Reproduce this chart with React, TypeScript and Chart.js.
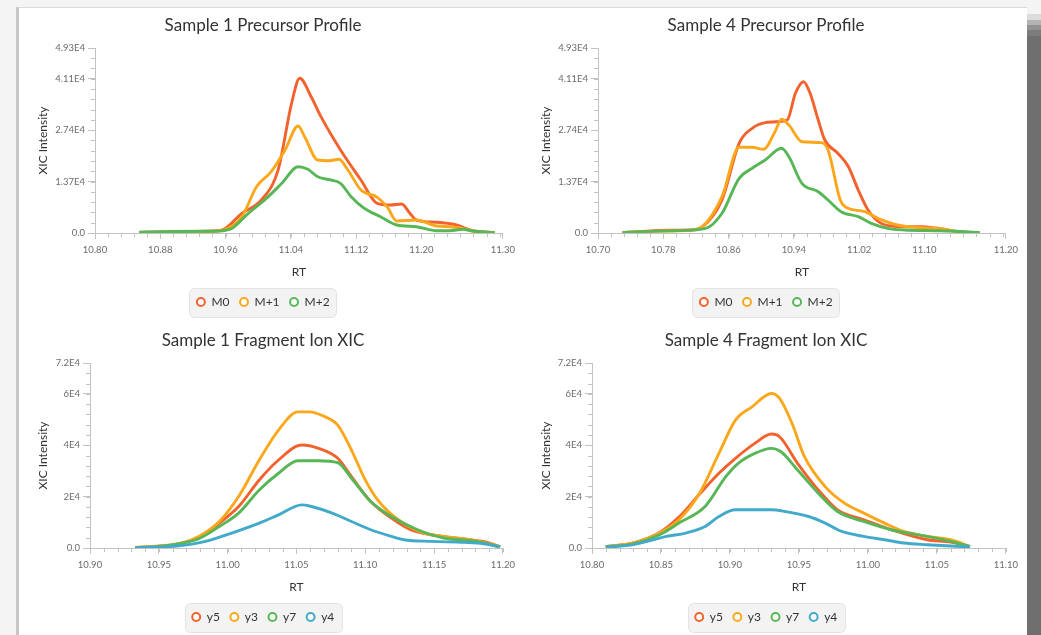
import React, { useEffect, useRef } from "react";
import { Chart, registerables } from "chart.js";

Chart.register(...registerables);

const FONT = "Lato, 'Noto Sans', 'DejaVu Sans', sans-serif";
Chart.defaults.font.family = FONT;

const AXIS = "#c2c2c2";
const TICK_TEXT = "#6b6b6b";
const TEXT = "#333333";

const RED = "#f3622d";
const ORANGE = "#fba71b";
const GREEN = "#57b757";
const BLUE = "#41a9c9";

// ---------- Sample 1 Precursor Profile ----------
const s1M0RT = [10.854, 10.88, 10.91, 10.94, 10.956, 10.98, 11.004, 11.0245, 11.041, 11.051, 11.065, 11.077, 11.101, 11.126, 11.146, 11.162, 11.176, 11.186, 11.194, 11.219, 11.243, 11.263, 11.29];
const s1M0 = [150, 250, 350, 500, 800, 5250, 8800, 16800, 34560, 41230, 36320, 31000, 22120, 14120, 7900, 7460, 7730, 5250, 3460, 2850, 2130, 600, 130];
const s1M1RT = [10.854, 10.9, 10.94, 10.956, 10.98, 10.998, 11.016, 11.033, 11.049, 11.057, 11.073, 11.087, 11.099, 11.11, 11.126, 11.146, 11.158, 11.17, 11.194, 11.219, 11.235, 11.251, 11.263, 11.29];
const s1M1 = [150, 300, 450, 700, 4340, 12340, 16340, 22120, 28520, 25660, 19450, 19270, 19640, 16790, 11460, 9510, 7010, 3200, 3460, 1870, 1680, 1250, 500, 100];
const s1M2RT = [10.854, 10.9, 10.93, 10.952, 10.968, 10.988, 11.008, 11.029, 11.049, 11.061, 11.073, 11.089, 11.101, 11.114, 11.13, 11.15, 11.17, 11.194, 11.219, 11.235, 11.251, 11.263, 11.29];
const s1M2 = [200, 400, 450, 500, 1250, 5250, 8800, 13240, 17670, 16970, 15000, 14120, 13240, 9670, 6580, 4340, 2130, 1680, 600, 600, 980, 530, 100];

// ---------- Sample 4 Precursor Profile ----------
const s4M0RT = [10.73, 10.751, 10.775, 10.812, 10.828, 10.852, 10.873, 10.889, 10.905, 10.921, 10.932, 10.942, 10.952, 10.96, 10.97, 10.978, 10.994, 11.007, 11.019, 11.031, 11.047, 11.071, 11.096, 11.116, 11.144, 11.168];
const s4M0 = [100, 350, 700, 800, 1680, 8800, 23900, 27900, 29400, 29660, 30100, 37230, 40320, 37230, 30100, 24780, 21240, 17670, 11460, 6130, 2580, 1680, 1680, 1250, 300, 100];
const s4M1RT = [10.73, 10.775, 10.812, 10.828, 10.852, 10.873, 10.889, 10.903, 10.917, 10.925, 10.934, 10.95, 10.974, 10.982, 10.997, 11.003, 11.027, 11.043, 11.067, 11.096, 11.116, 11.144, 11.168];
const s4M1 = [100, 500, 700, 1680, 9670, 22840, 22840, 22300, 27000, 30300, 28780, 24330, 24070, 22120, 8800, 7000, 5680, 3920, 2130, 1410, 1250, 300, 100];
const s4M2RT = [10.73, 10.751, 10.792, 10.832, 10.852, 10.873, 10.889, 10.905, 10.925, 10.934, 10.95, 10.97, 10.982, 10.998, 11.019, 11.035, 11.055, 11.076, 11.116, 11.144, 11.168];
const s4M2 = [100, 350, 600, 1250, 5250, 14580, 17240, 19450, 22570, 20330, 13240, 11010, 8800, 5680, 4340, 2580, 1250, 800, 600, 400, 100];

// ---------- Sample 1 Fragment Ion XIC ----------
const s1y5RT = [10.933, 10.95, 10.965, 10.979, 10.994, 11.008, 11.023, 11.037, 11.054, 11.066, 11.08, 11.09, 11.104, 11.119, 11.133, 11.148, 11.176, 11.188, 11.198];
const s1y5 = [200, 700, 1670, 4200, 9700, 16140, 26490, 34250, 40070, 38790, 34910, 27770, 18080, 11630, 7100, 5160, 3220, 2300, 500];
const s1y3RT = [10.933, 10.95, 10.965, 10.979, 10.994, 11.008, 11.023, 11.037, 11.051, 11.059, 11.071, 11.08, 11.09, 11.1, 11.109, 11.124, 11.143, 11.157, 11.176, 11.188, 11.198];
const s1y3 = [200, 800, 1670, 4500, 10320, 20020, 34250, 45890, 52990, 52990, 51050, 47830, 38130, 26490, 18740, 10980, 5820, 4500, 3220, 1940, 500];
const s1y7RT = [10.933, 10.95, 10.965, 10.979, 10.994, 11.008, 11.023, 11.037, 11.051, 11.066, 11.08, 11.09, 11.104, 11.119, 11.138, 11.157, 11.181, 11.198];
const s1y7 = [200, 600, 1670, 3600, 8380, 13570, 22610, 29090, 33980, 33980, 33210, 27150, 18080, 12260, 7100, 3880, 2560, 500];
const s1y4RT = [10.933, 10.965, 10.984, 11.003, 11.023, 11.037, 11.054, 11.061, 11.076, 11.09, 11.104, 11.119, 11.128, 11.148, 11.172, 11.186, 11.198];
const s1y4 = [100, 890, 2560, 5820, 9700, 12920, 16800, 16140, 13570, 10320, 7100, 4500, 3220, 2560, 2170, 1670, 400];

// ---------- Sample 4 Fragment Ion XIC ----------
const s4y5RT = [10.81, 10.83, 10.849, 10.863, 10.878, 10.892, 10.904, 10.918, 10.93, 10.936, 10.949, 10.964, 10.978, 10.997, 11.017, 11.043, 11.06, 11.074];
const s4y5 = [500, 1940, 6000, 12000, 21000, 29090, 34910, 40730, 44340, 43290, 32970, 22610, 14860, 10980, 7100, 3220, 2300, 500];
const s4y3RT = [10.81, 10.83, 10.849, 10.863, 10.878, 10.892, 10.904, 10.916, 10.93, 10.936, 10.945, 10.954, 10.969, 10.983, 10.997, 11.012, 11.026, 11.043, 11.06, 11.074];
const s4y3 = [600, 1940, 5820, 10980, 21330, 36850, 49770, 54930, 60120, 58190, 48490, 35530, 23900, 17460, 13580, 9700, 6440, 4500, 3220, 600];
const s4y7RT = [10.81, 10.83, 10.849, 10.863, 10.882, 10.897, 10.906, 10.918, 10.93, 10.937, 10.949, 10.964, 10.978, 10.997, 11.017, 11.043, 11.06, 11.069, 11.074];
const s4y7 = [500, 1600, 5160, 9700, 16140, 27770, 32970, 36850, 38790, 37470, 30370, 21330, 14200, 10320, 7100, 4500, 2560, 1300, 600];
const s4y4RT = [10.81, 10.83, 10.854, 10.868, 10.882, 10.892, 10.904, 10.918, 10.93, 10.94, 10.957, 10.969, 10.981, 10.997, 11.012, 11.026, 11.043, 11.074];
const s4y4 = [300, 1290, 4500, 5820, 8380, 12260, 14860, 14860, 14860, 14200, 12260, 9700, 6440, 4500, 3220, 1940, 1290, 400];

// ---------- Axis ticks ----------
const precYTicks = [0, 13700, 27400, 41100, 49300];
const precYLabels = ["0.0", "1.37E4", "2.74E4", "4.11E4", "4.93E4"];
const precYMinorStep = 2740;
const s1PrecXTicks = [10.8, 10.88, 10.96, 11.04, 11.12, 11.2, 11.3];
const s4PrecXTicks = [10.7, 10.78, 10.86, 10.94, 11.02, 11.1, 11.2];
const precXMinorStep = 0.016;

const fragYTicks = [0, 20000, 40000, 60000, 72000];
const fragYLabels = ["0.0", "2E4", "4E4", "6E4", "7.2E4"];
const fragYMinorStep = 4000;
const s1FragXTicks = [10.9, 10.95, 11.0, 11.05, 11.1, 11.15, 11.2];
const s4FragXTicks = [10.8, 10.85, 10.9, 10.95, 11.0, 11.05, 11.1];
const fragXMinorStep = 0.01;

type Series = { label: string; color: string; rt: number[]; val: number[] };
type Cfg = {
  title: string;
  series: Series[];
  xTicks: number[];
  xMinorStep: number;
  yTicks: number[];
  yLabels: string[];
  yMinorStep: number;
  yWidth: number;
  left: number;
  top: number;
};

const CHARTS: Cfg[] = [
  {
    title: "Sample 1 Precursor Profile",
    series: [
      { label: "M0", color: RED, rt: s1M0RT, val: s1M0 },
      { label: "M+1", color: ORANGE, rt: s1M1RT, val: s1M1 },
      { label: "M+2", color: GREEN, rt: s1M2RT, val: s1M2 },
    ],
    xTicks: s1PrecXTicks, xMinorStep: precXMinorStep,
    yTicks: precYTicks, yLabels: precYLabels, yMinorStep: precYMinorStep,
    yWidth: 75, left: 20, top: 8,
  },
  {
    title: "Sample 4 Precursor Profile",
    series: [
      { label: "M0", color: RED, rt: s4M0RT, val: s4M0 },
      { label: "M+1", color: ORANGE, rt: s4M1RT, val: s4M1 },
      { label: "M+2", color: GREEN, rt: s4M2RT, val: s4M2 },
    ],
    xTicks: s4PrecXTicks, xMinorStep: precXMinorStep,
    yTicks: precYTicks, yLabels: precYLabels, yMinorStep: precYMinorStep,
    yWidth: 75, left: 523, top: 8,
  },
  {
    title: "Sample 1 Fragment Ion XIC",
    series: [
      { label: "y5", color: RED, rt: s1y5RT, val: s1y5 },
      { label: "y3", color: ORANGE, rt: s1y3RT, val: s1y3 },
      { label: "y7", color: GREEN, rt: s1y7RT, val: s1y7 },
      { label: "y4", color: BLUE, rt: s1y4RT, val: s1y4 },
    ],
    xTicks: s1FragXTicks, xMinorStep: fragXMinorStep,
    yTicks: fragYTicks, yLabels: fragYLabels, yMinorStep: fragYMinorStep,
    yWidth: 70, left: 20, top: 323,
  },
  {
    title: "Sample 4 Fragment Ion XIC",
    series: [
      { label: "y5", color: RED, rt: s4y5RT, val: s4y5 },
      { label: "y3", color: ORANGE, rt: s4y3RT, val: s4y3 },
      { label: "y7", color: GREEN, rt: s4y7RT, val: s4y7 },
      { label: "y4", color: BLUE, rt: s4y4RT, val: s4y4 },
    ],
    xTicks: s4FragXTicks, xMinorStep: fragXMinorStep,
    yTicks: fragYTicks, yLabels: fragYLabels, yMinorStep: fragYMinorStep,
    yWidth: 69, left: 523, top: 323,
  },
];

const CW = 500;
const CH = 312;

function stepsBetween(min: number, max: number, step: number): number[] {
  const out: number[] = [];
  const n = Math.floor((max - min) / step + 1e-6);
  for (let i = 1; i <= n; i++) out.push(min + i * step);
  return out;
}

const minorTicksPlugin = {
  id: "minorTicks",
  afterDraw(chart: any, _args: any, opts: any) {
    const { ctx } = chart;
    const xs = chart.scales.x;
    const ys = chart.scales.y;
    ctx.save();
    ctx.strokeStyle = AXIS;
    ctx.lineWidth = 1;
    ctx.beginPath();
    for (const v of opts.xMinor || []) {
      const px = Math.round(xs.getPixelForValue(v)) + 0.5;
      ctx.moveTo(px, xs.top);
      ctx.lineTo(px, xs.top + 4);
    }
    for (const v of opts.yMinor || []) {
      const py = Math.round(ys.getPixelForValue(v)) + 0.5;
      ctx.moveTo(ys.right, py);
      ctx.lineTo(ys.right - 4, py);
    }
    ctx.stroke();
    ctx.restore();
  },
};

const legendBoxPlugin = {
  id: "legendBox",
  beforeDraw(chart: any) {
    const lg = chart.legend;
    if (!lg || !lg.legendHitBoxes || !lg.legendHitBoxes.length) return;
    const hb = lg.legendHitBoxes;
    const l = Math.min(...hb.map((h: any) => h.left)) - 7;
    const r = Math.max(...hb.map((h: any) => h.left + h.width)) + 7;
    const t = hb[0].top - 8.5;
    const b = hb[0].top + hb[0].height + 8.5;
    const { ctx } = chart;
    ctx.save();
    ctx.beginPath();
    ctx.roundRect(Math.round(l) + 0.5, Math.round(t) + 0.5, Math.round(r - l), Math.round(b - t), 5);
    ctx.fillStyle = "#f3f3f3";
    ctx.fill();
    ctx.strokeStyle = "#e3e3e3";
    ctx.lineWidth = 1;
    ctx.stroke();
    ctx.restore();
  },
};

function XicChart({ cfg }: { cfg: Cfg }) {
  const ref = useRef<HTMLCanvasElement>(null);
  useEffect(() => {
    const xMin = cfg.xTicks[0];
    const xMax = cfg.xTicks[cfg.xTicks.length - 1];
    const yMax = cfg.yTicks[cfg.yTicks.length - 1];
    const n = cfg.series.length;
    const chart = new Chart(ref.current as HTMLCanvasElement, {
      type: "line",
      data: {
        datasets: cfg.series.map((s, i) => ({
          label: s.label,
          data: s.rt.map((x, j) => ({ x, y: s.val[j] })),
          borderColor: s.color,
          backgroundColor: "#ffffff",
          borderWidth: 2.9,
          pointRadius: 0,
          cubicInterpolationMode: "monotone" as const,
          fill: false,
          order: n - i,
        })),
      },
      options: {
        responsive: false,
        animation: false,
        devicePixelRatio: 1,
        events: [],
        layout: { padding: { left: 0, right: 14, top: 0, bottom: 2 } },
        scales: {
          x: {
            type: "linear",
            min: xMin,
            max: xMax,
            afterBuildTicks: (s: any) => {
              s.ticks = cfg.xTicks.map((v) => ({ value: v }));
            },
            afterFit: (s: any) => {
              s.height = 53;
            },
            ticks: {
              autoSkip: false,
              maxRotation: 0,
              padding: 5,
              color: TICK_TEXT,
              font: { size: 9.5 },
              callback: (v: any) => Number(v).toFixed(2),
            },
            grid: { drawOnChartArea: false, drawTicks: true, tickLength: 6, color: AXIS },
            border: { color: AXIS, width: 1 },
            title: {
              display: true,
              text: "RT",
              color: TEXT,
              font: { size: 12 },
              padding: { top: 0, bottom: 7.1 },
            },
          },
          y: {
            type: "linear",
            min: 0,
            max: yMax,
            afterBuildTicks: (s: any) => {
              s.ticks = cfg.yTicks.map((v) => ({ value: v }));
            },
            afterFit: (s: any) => {
              s.width = cfg.yWidth;
            },
            ticks: {
              autoSkip: false,
              padding: 3,
              color: TICK_TEXT,
              font: { size: 9.5 },
              callback: (_v: any, i: number) => cfg.yLabels[i],
            },
            grid: { drawOnChartArea: false, drawTicks: true, tickLength: 7, color: AXIS },
            border: { color: AXIS, width: 1 },
            title: {
              display: true,
              text: "XIC Intensity",
              color: TEXT,
              font: { size: 12 },
              padding: { top: 16.1, bottom: 0 },
            },
          },
        },
        plugins: {
          title: {
            display: true,
            text: cfg.title,
            color: TEXT,
            font: { size: 17, weight: "normal" },
            padding: { top: 7.5, bottom: 12.1 },
          },
          legend: {
            display: true,
            position: "bottom",
            labels: {
              usePointStyle: true,
              pointStyle: "circle",
              boxWidth: 9,
              boxHeight: 5.6,
              padding: 10,
              color: TEXT,
              font: { size: 12 },
              sort: (a: any, b: any) => a.datasetIndex - b.datasetIndex,
              generateLabels: (c: any) =>
                (Chart.defaults.plugins.legend.labels.generateLabels as any)(c).map((l: any) => ({
                  ...l,
                  fillStyle: "#ffffff",
                  lineWidth: 2,
                  pointStyle: "circle",
                })),
            },
          },
          tooltip: { enabled: false },
          minorTicks: {
            xMinor: stepsBetween(xMin, xMax, cfg.xMinorStep),
            yMinor: stepsBetween(0, yMax, cfg.yMinorStep),
          },
        } as any,
      },
      plugins: [minorTicksPlugin, legendBoxPlugin],
    } as any);
    return () => chart.destroy();
  }, [cfg]);
  return (
    <canvas
      ref={ref}
      width={CW}
      height={CH}
      style={{ position: "absolute", left: cfg.left, top: cfg.top, width: CW, height: CH, display: "block" }}
    />
  );
}

const shadowBands = [
  { top: 0, height: 14, color: "#f4f4f4" },
  { top: 14, height: 6, color: "#dcdcdc" },
  { top: 20, height: 5, color: "#b4b4b4" },
  { top: 25, height: 5, color: "#929292" },
  { top: 30, height: 6, color: "#7c7c7c" },
];

export default function App() {
  return (
    <div
      style={{
        position: "fixed",
        left: 0,
        top: 0,
        width: 1041,
        height: 635,
        overflow: "hidden",
        backgroundColor: "#6f6f6f",
        backgroundImage: "linear-gradient(to right, #f4f4f4 0px, #f4f4f4 1027px, #6f6f6f 1027px, #6f6f6f 1041px)",
      }}
    >
      {shadowBands.map((b, i) => (
        <div
          key={i}
          style={{
            position: "absolute",
            left: 1027,
            top: b.top,
            width: 14,
            height: b.height,
            background: b.color,
          }}
        />
      ))}
      <div
        style={{
          position: "absolute",
          left: 16,
          top: 7,
          width: 1011,
          height: 700,
          boxSizing: "border-box",
          background: "#ffffff",
          borderLeft: "3px solid #c6c6c6",
          borderTop: "1px solid #dadada",
        }}
      />
      {CHARTS.map((c) => (
        <XicChart key={c.title} cfg={c} />
      ))}
    </div>
  );
}
